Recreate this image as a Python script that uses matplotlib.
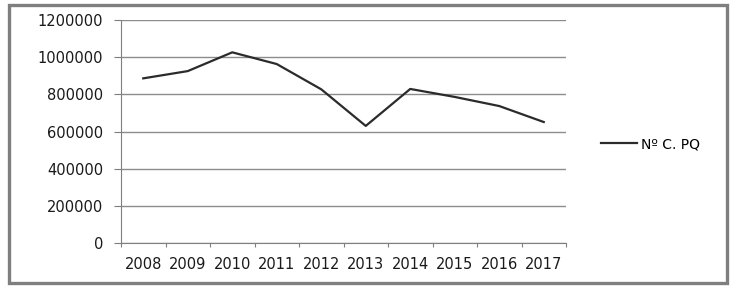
import numpy as np
import matplotlib
matplotlib.use("Agg")
import matplotlib.pyplot as plt
from matplotlib.patches import Rectangle

years = ["2008", "2009", "2010", "2011", "2012", "2013", "2014", "2015", "2016", "2017"]
values = [886000, 925000, 1026000, 963000, 827000, 630000, 829000, 786000, 737000, 651000]
series_name = "Nº C. PQ"
yticks = [0, 200000, 400000, 600000, 800000, 1000000, 1200000]

W, H = 733, 289
fig = plt.figure(figsize=(W / 100, H / 100), dpi=100)
ax = fig.add_axes([121 / W, 1 - 243 / H, (566 - 121) / W, (243 - 20) / H])

x = np.arange(len(years))
ax.plot(x, values, color="#2b2b2b", lw=1.6, label=series_name)

ax.set_xlim(-0.5, len(years) - 0.5)
ax.set_ylim(0, 1200000)
ax.set_yticks(yticks)
ax.set_yticklabels([str(v) for v in yticks])
ax.yaxis.grid(True, color="#8c8c8c", lw=1.0)
ax.set_axisbelow(True)

# category boundaries get the tick marks, labels sit in the middle
ax.set_xticks(np.arange(-0.5, len(years)))
ax.set_xticklabels([])
ax.set_xticks(x, minor=True)
ax.set_xticklabels(years, minor=True)
ax.tick_params(axis="x", which="major", length=3, color="#7f7f7f", direction="out")
ax.tick_params(axis="x", which="minor", length=0, pad=10)
ax.tick_params(axis="y", length=5, color="#7f7f7f", pad=8)
for lab in ax.get_xticklabels(minor=True) + ax.get_yticklabels():
    lab.set_fontsize(10.5)
    lab.set_color("#1a1a1a")

for s in ["top", "right"]:
    ax.spines[s].set_visible(False)
ax.spines["left"].set_color("#7f7f7f")
ax.spines["bottom"].set_color("#7f7f7f")

leg = fig.legend(loc="center left", bbox_to_anchor=(588 / W, 1 - 144 / H), frameon=False,
                 fontsize=10, handlelength=2.6, handletextpad=0.3)

fig.patches.append(Rectangle((9 / W, 1 - 283 / H), (727 - 9) / W, (283 - 5) / H,
                             transform=fig.transFigure, fill=False, edgecolor="#7f7f7f", lw=2.4))

fig.savefig("out.png", dpi=100)
